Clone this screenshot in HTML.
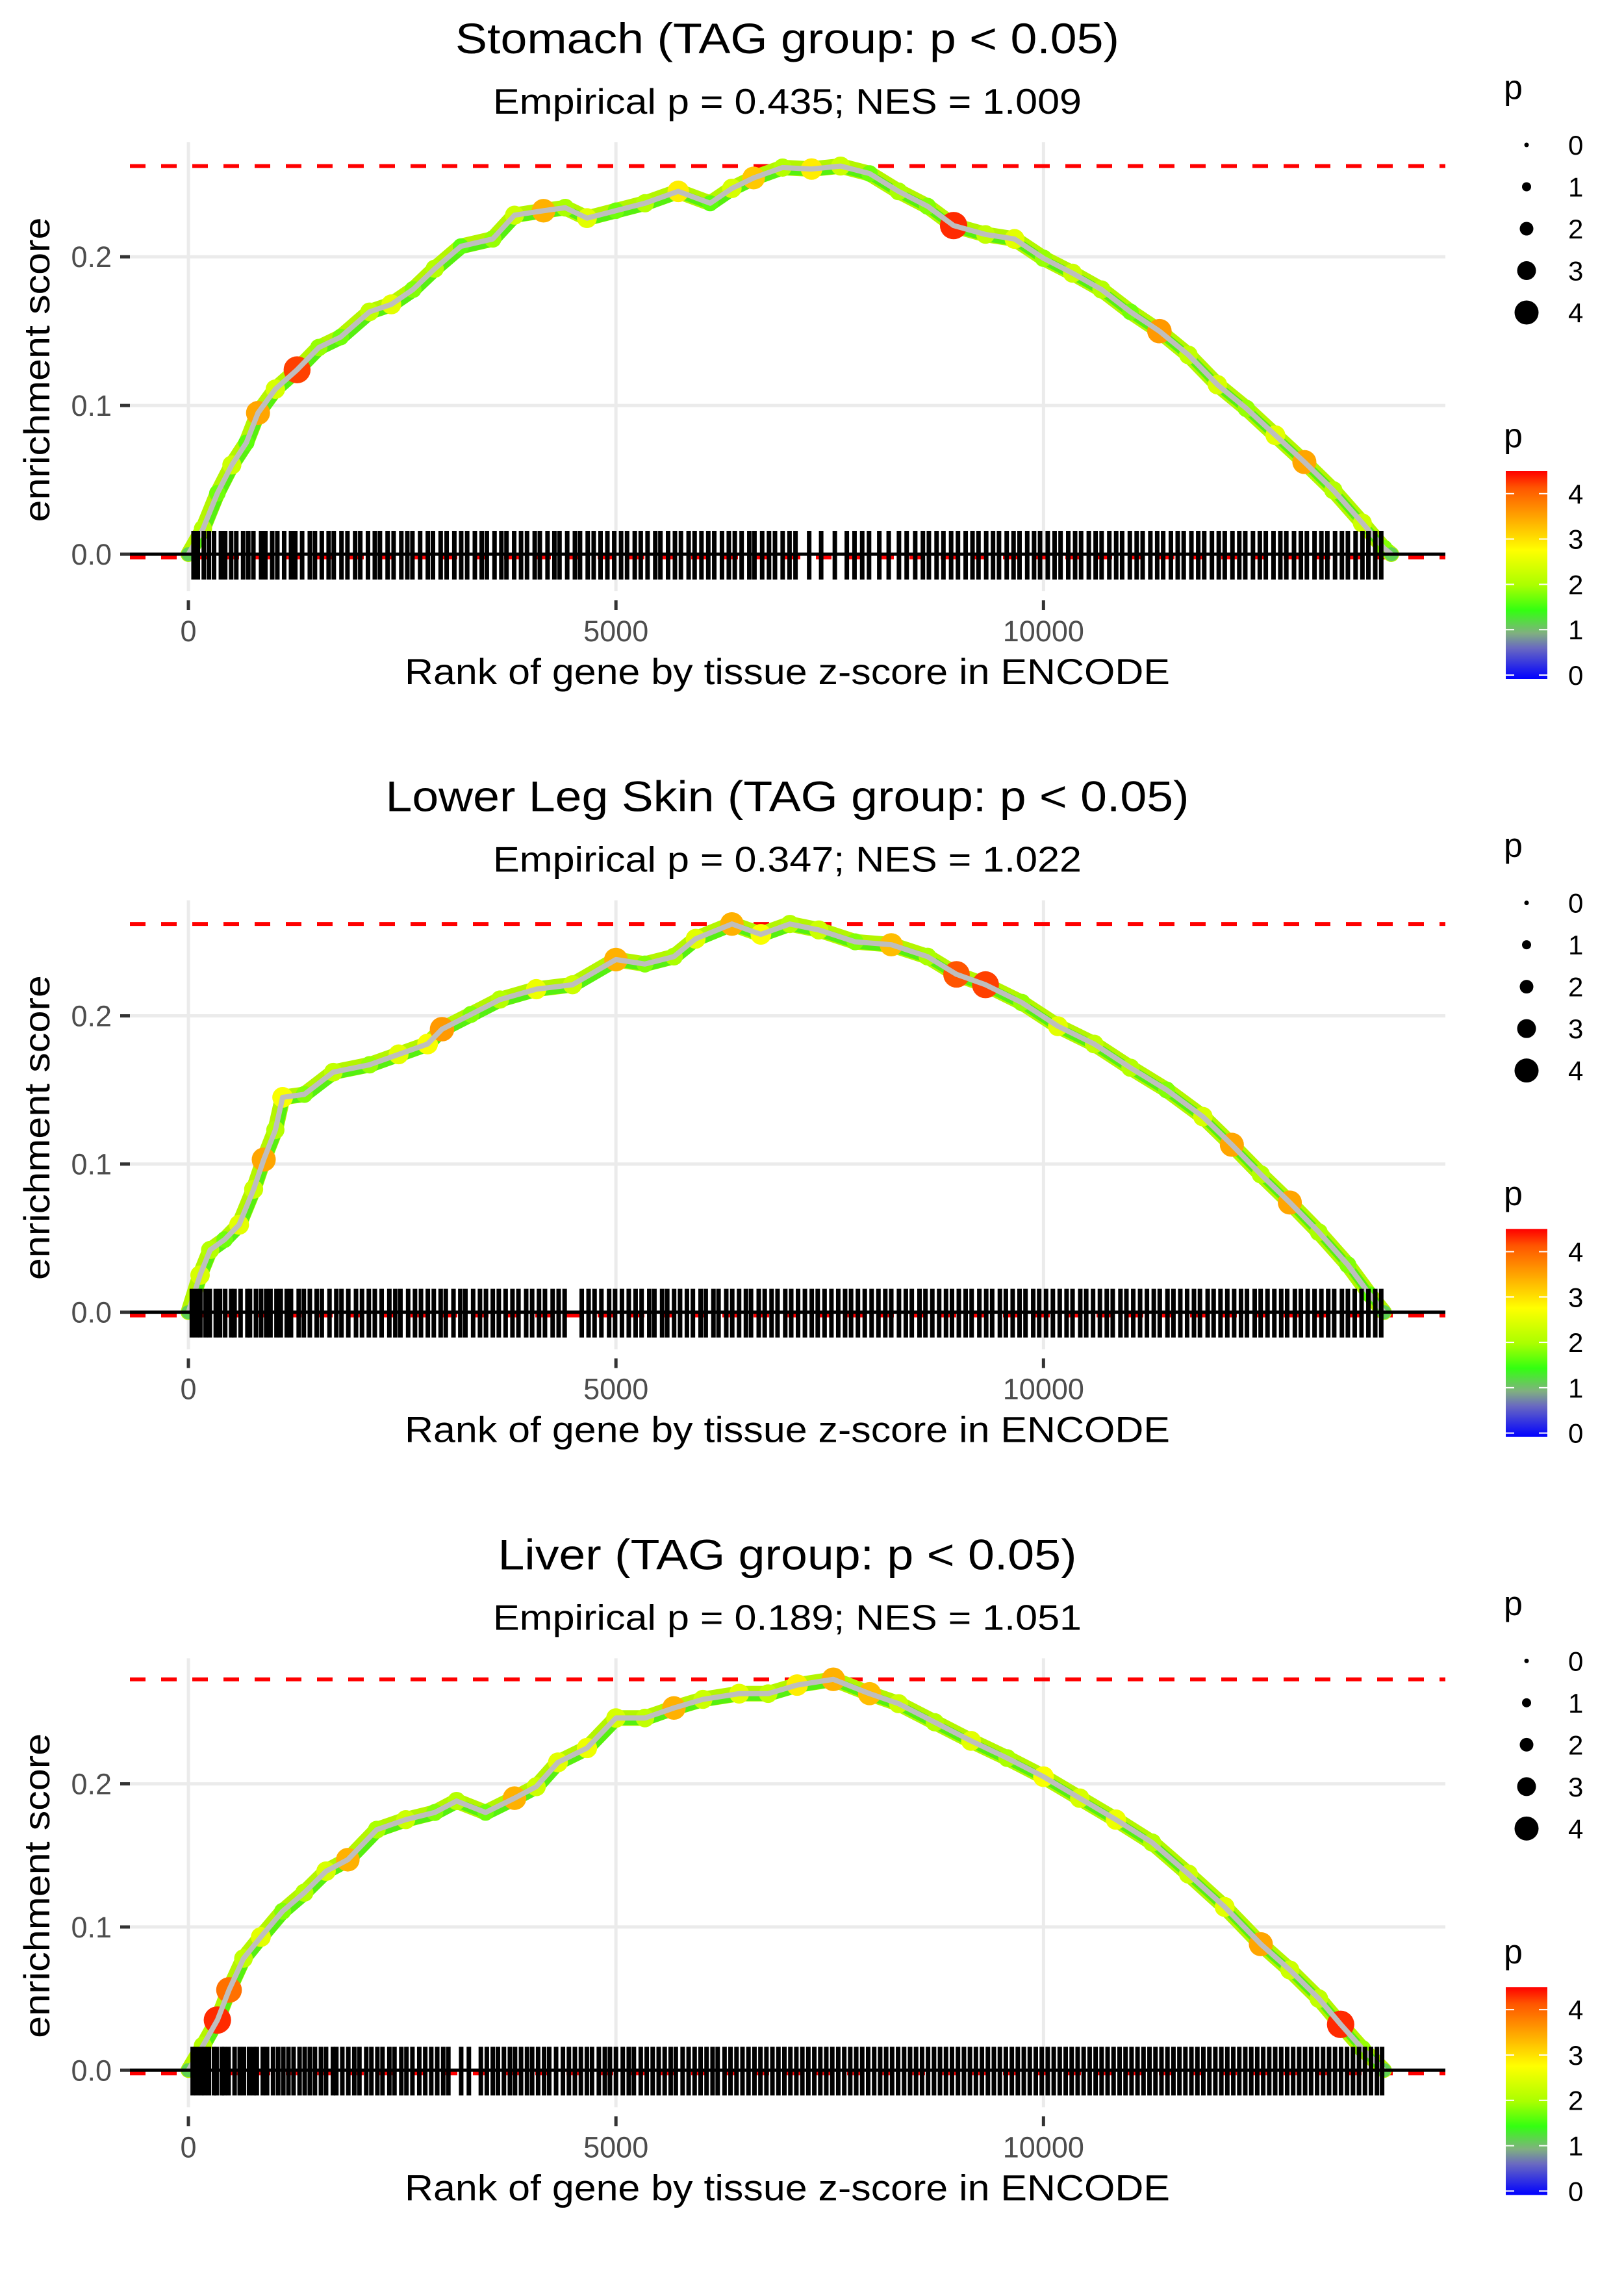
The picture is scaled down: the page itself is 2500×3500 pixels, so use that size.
<!DOCTYPE html>
<html><head><meta charset="utf-8">
<style>
html,body{margin:0;padding:0;background:#fff;}
svg{display:block;font-family:"Liberation Sans",sans-serif;}
</style></head>
<body>
<svg id="chart" xmlns="http://www.w3.org/2000/svg" width="2500" height="3500" viewBox="0 0 2500 3500">
<defs>
<linearGradient id="pgrad" x1="0" y1="1" x2="0" y2="0">
<stop offset="0" stop-color="#0000ff"/>
<stop offset="0.15" stop-color="#6a6ac0"/>
<stop offset="0.22" stop-color="#80b080"/>
<stop offset="0.33" stop-color="#33ff11"/>
<stop offset="0.45" stop-color="#aaff00"/>
<stop offset="0.62" stop-color="#ffff00"/>
<stop offset="0.80" stop-color="#ff9900"/>
<stop offset="0.92" stop-color="#ff5500"/>
<stop offset="1" stop-color="#ff0000"/>
</linearGradient>
</defs>
</svg>
<script>
// ---- Panel 1: Stomach ----
const p1Ranks = [0,170,339,508,678,814,1017,1271,1525,1780,2119,2373,2627,2881,3186,3559,3814,4153,4407,4661,5000,5339,5729,6102,6356,6610,6949,7288,7627,7966,8305,8644,8949,9322,9661,10000,10339,10678,11017,11356,11695,12034,12373,12712,13051,13390,13729,13983,14068];
const p1ES = [0,0.017,0.041,0.06,0.075,0.095,0.111,0.124,0.139,0.146,0.163,0.168,0.178,0.192,0.207,0.212,0.228,0.231,0.233,0.226,0.231,0.236,0.244,0.236,0.246,0.253,0.26,0.259,0.261,0.256,0.244,0.234,0.221,0.215,0.212,0.199,0.189,0.178,0.163,0.150,0.134,0.114,0.098,0.080,0.062,0.043,0.021,0.004,0];
const p1P = [1.2,2.2,1.8,2.4,1.7,3.6,2.5,4.3,2.0,1.8,2.3,2.6,1.9,2.2,1.7,2.0,2.4,3.5,2.1,2.6,1.8,2.2,3.0,1.7,2.5,3.3,2.2,3.0,2.4,1.8,2.1,1.9,4.4,2.3,2.6,2.0,2.4,2.2,1.8,3.7,2.3,2.5,2.0,2.6,3.6,2.2,2.4,1.9,1.2];
const p1Rug = [60,110,180,240,300,380,430,500,560,640,700,760,850,900,980,1040,1120,1200,1250,1330,1420,1480,1560,1640,1700,1790,1860,1950,2010,2100,2180,2240,2330,2400,2490,2560,2620,2710,2800,2860,2950,3020,3110,3190,3260,3350,3430,3490,3580,3660,3720,3810,3890,3960,4050,4110,4200,4280,4340,4430,4520,4580,4670,4740,4820,4900,4980,5060,5130,5220,5290,5370,5460,5520,5610,5690,5760,5850,5920,6000,6080,6150,6240,6320,6390,6470,6560,6620,6710,6790,6860,6950,7030,7100,7260,7400,7560,7700,7790,7880,7960,8080,8190,8310,8400,8500,8590,8660,8750,8830,8920,9000,9090,9170,9240,9330,9410,9480,9570,9650,9720,9810,9890,9960,10050,10130,10200,10290,10370,10440,10530,10610,10680,10770,10850,10920,11010,11090,11160,11250,11330,11400,11490,11570,11640,11730,11810,11880,11970,12050,12120,12210,12290,12360,12450,12530,12600,12690,12770,12840,12930,13010,13080,13170,13250,13320,13410,13490,13560,13650,13730,13800,13880,13950];
// ---- Panel 2: Lower Leg Skin ----
const p2Ranks = [0,136,254,424,593,763,881,1017,1102,1356,1695,2119,2458,2797,2966,3305,3644,4068,4492,5000,5339,5678,5932,6356,6695,7034,7373,7797,8220,8644,8983,9322,9746,10169,10593,11017,11441,11864,12203,12542,12881,13220,13559,13814,13983];
const p2ES = [0,0.025,0.042,0.049,0.059,0.083,0.103,0.123,0.145,0.147,0.162,0.167,0.174,0.181,0.191,0.201,0.211,0.218,0.221,0.238,0.235,0.240,0.252,0.262,0.255,0.262,0.258,0.25,0.248,0.240,0.228,0.221,0.209,0.193,0.181,0.165,0.150,0.132,0.113,0.093,0.074,0.054,0.032,0.012,0];
const p2P = [1.2,2.5,2.2,1.8,2.6,2.4,3.6,2.2,2.8,1.9,2.3,2.0,2.6,2.8,3.7,1.9,2.2,2.7,2.4,3.5,1.9,2.1,2.6,3.5,2.8,2.2,2.4,1.9,3.4,2.1,4.2,4.3,2.0,2.6,2.3,2.2,1.9,2.5,3.6,2.2,3.6,2.1,1.9,1.7,1.2];
const p2Rug = [40,90,140,200,250,320,370,430,500,540,610,690,720,790,850,910,960,1030,1080,1150,1200,1290,1350,1420,1500,1560,1650,1730,1790,1870,1960,2030,2110,2180,2260,2350,2420,2480,2570,2650,2720,2800,2870,2950,3010,3100,3180,3240,3330,3410,3480,3560,3630,3710,3790,3860,3950,4020,4100,4170,4260,4330,4400,4600,4680,4750,4830,4920,4990,5070,5150,5230,5300,5390,5450,5540,5600,5680,5750,5830,5900,5990,6050,6140,6200,6290,6360,6440,6520,6580,6670,6740,6820,6890,6980,7050,7130,7210,7290,7360,7440,7520,7600,7680,7750,7830,7910,7990,8070,8150,8220,8310,8390,8460,8550,8620,8700,8780,8860,8930,9010,9090,9160,9250,9330,9400,9490,9560,9640,9720,9790,9880,9950,10030,10110,10190,10270,10340,10430,10500,10580,10660,10740,10810,10900,10970,11050,11130,11210,11290,11360,11450,11520,11600,11680,11760,11830,11920,11990,12070,12150,12230,12310,12380,12470,12540,12620,12700,12780,12850,12940,13010,13090,13170,13250,13330,13400,13490,13560,13640,13720,13800,13880,13950];
// ---- Panel 3: Liver ----
const p3Ranks = [0,169,339,475,644,847,1102,1356,1610,1864,2203,2542,2881,3136,3475,3814,4068,4322,4661,5000,5339,5678,6017,6441,6780,7119,7542,7966,8305,8729,9153,9576,10000,10424,10847,11271,11695,12119,12542,12881,13220,13475,13729,13983];
const p3ES = [0,0.017,0.035,0.056,0.078,0.093,0.111,0.124,0.139,0.147,0.168,0.175,0.180,0.188,0.180,0.190,0.198,0.215,0.225,0.246,0.246,0.253,0.259,0.263,0.263,0.269,0.273,0.263,0.256,0.243,0.230,0.218,0.205,0.190,0.175,0.159,0.137,0.114,0.088,0.070,0.050,0.032,0.015,0];
const p3P = [1.2,2.2,4.4,4.0,2.3,2.6,1.9,2.2,2.5,3.5,2.1,2.4,1.9,2.2,1.8,3.5,2.4,2.6,2.7,2.5,2.3,3.5,2.4,2.6,2.3,3.0,3.5,3.4,2.4,2.2,2.6,2.1,2.8,2.5,2.7,2.2,2.4,2.6,3.6,2.4,2.3,4.4,2.0,1.2];
const p3Rug = [50,100,150,190,240,300,330,390,420,470,540,600,650,710,760,800,870,920,990,1050,1110,1170,1230,1300,1360,1420,1480,1550,1610,1690,1730,1800,1870,1940,2000,2080,2140,2210,2270,2350,2410,2490,2550,2620,2700,2770,2840,2910,2980,3040,3190,3280,3420,3490,3560,3620,3690,3760,3820,3890,3960,4020,4090,4160,4220,4300,4380,4450,4520,4590,4660,4720,4800,4870,4930,5000,5080,5150,5210,5290,5360,5430,5500,5570,5640,5700,5780,5850,5920,5990,6060,6130,6190,6270,6340,6410,6480,6550,6620,6690,6760,6830,6900,6970,7040,7110,7180,7250,7320,7390,7460,7530,7600,7670,7740,7810,7880,7950,8020,8090,8160,8230,8300,8370,8440,8510,8580,8650,8720,8790,8860,8930,9000,9070,9140,9210,9280,9350,9420,9490,9560,9630,9700,9770,9840,9910,9980,10050,10120,10190,10260,10330,10400,10470,10540,10610,10680,10750,10820,10890,10960,11030,11100,11170,11240,11310,11380,11450,11520,11590,11660,11730,11800,11870,11940,12010,12080,12150,12220,12290,12360,12430,12500,12570,12640,12710,12780,12850,12920,12990,13060,13130,13200,13270,13340,13410,13480,13550,13620,13690,13760,13830,13900,13960];

const titles = ["Stomach (TAG group: p < 0.05)","Lower Leg Skin (TAG group: p < 0.05)","Liver (TAG group: p < 0.05)"];
const subtitles = ["Empirical p = 0.435; NES = 1.009","Empirical p = 0.347; NES = 1.022","Empirical p = 0.189; NES = 1.051"];
const xTicks = [0,5000,10000];
const xTickLabels = ["0","5000","10000"];
const yTicks = [0,0.1,0.2];
const yTickLabels = ["0.0","0.1","0.2"];
const sizeLegendVals = [0,1,2,3,4];
const colorLegendVals = [0,1,2,3,4];

const NS = "http://www.w3.org/2000/svg";
const svg = document.getElementById("chart");
function mk(tag, attrs, parent){ const e=document.createElementNS(NS,tag); for(const k in attrs) e.setAttribute(k,attrs[k]); parent.appendChild(e); return e; }

const PLOT_L=200, PLOT_R=2225, PLOT_T=219, PLOT_B=910;
const X_MIN=-684, X_MAX=14700;
function xs(r){ return PLOT_L + (r - X_MIN)/(X_MAX - X_MIN)*(PLOT_R-PLOT_L); }
const yDomains = [[-0.0249,0.277],[-0.025,0.278],[-0.0259,0.2877]];
const titleW = [1022,1237,891];

function colorFor(p){
  const stops=[[0,[0,0,255]],[0.7,[106,106,192]],[1.0,[128,176,128]],[1.5,[51,255,17]],[2.1,[170,255,0]],[2.85,[255,255,0]],[3.7,[255,153,0]],[4.2,[255,85,0]],[4.6,[255,0,0]]];
  if(p<=0) return "rgb(0,0,255)";
  for(let i=1;i<stops.length;i++){ if(p<=stops[i][0]){ const a=stops[i-1],b=stops[i]; const t=(p-a[0])/(b[0]-a[0]); const c=a[1].map((v,j)=>Math.round(v+(b[1][j]-v)*t)); return "rgb("+c.join(",")+")"; } }
  return "rgb(255,0,0)";
}
function rFor(p){ return 7 + p*3.2; }

const panels = [[p1Ranks,p1ES,p1P,p1Rug],[p2Ranks,p2ES,p2P,p2Rug],[p3Ranks,p3ES,p3P,p3Rug]];

panels.forEach((pd,i)=>{
  const [ranks,es,pv,rug]=pd;
  const [lo,hi]=yDomains[i];
  const ys = v => PLOT_B - (v-lo)/(hi-lo)*(PLOT_B-PLOT_T);
  const g = mk("g",{transform:"translate(0,"+(i*1166.67)+")"},svg);
  
  

  const t = mk("text",{x:1212,y:82,"text-anchor":"middle","font-size":66,fill:"#000",textLength:titleW[i],lengthAdjust:"spacingAndGlyphs"},g);
  t.textContent=titles[i];
  
  
  const st = mk("text",{x:1212,y:175,"text-anchor":"middle","font-size":55,fill:"#000",textLength:906,lengthAdjust:"spacingAndGlyphs"},g);
  st.textContent=subtitles[i];
  
  

  // gridlines
  yTicks.forEach(v=>{
    const l=mk("line",{x1:PLOT_L,x2:PLOT_R,y1:ys(v),y2:ys(v),stroke:"#ebebeb","stroke-width":5},g);
    
    
  });
  xTicks.forEach(r=>{
    const l=mk("line",{x1:xs(r),x2:xs(r),y1:PLOT_T,y2:PLOT_B,stroke:"#ebebeb","stroke-width":5},g);
    
    
  });

  // red dashed lines (max and min ES)
  const maxES = Math.max(...es), minES = Math.min(...es);
  const dmax=mk("line",{x1:PLOT_L,x2:PLOT_R,y1:ys(maxES),y2:ys(maxES),stroke:"#ff0000","stroke-width":6,"stroke-dasharray":"24 24"},g);
  
  
  const dmin=mk("line",{x1:PLOT_L,x2:PLOT_R,y1:ys(minES)+5,y2:ys(minES)+5,stroke:"#ff0000","stroke-width":6,"stroke-dasharray":"24 24"},g);
  
  

  // band + points + line
  let d="";
  ranks.forEach((r,k)=>{ d += (k?"L":"M")+xs(r).toFixed(1)+","+ys(es[k]).toFixed(1); });
  const band=mk("path",{d:d,fill:"none",stroke:"#b4f500","stroke-width":24,"stroke-linejoin":"round","stroke-linecap":"round"},g);
  
  
  const band2=mk("path",{d:d,fill:"none",stroke:"#55f010","stroke-width":14,"stroke-linejoin":"round",transform:"translate(3,4)"},g);
  
  
  ranks.forEach((r,k)=>{
    const c=mk("circle",{cx:xs(r),cy:ys(es[k]),r:rFor(pv[k]),fill:colorFor(pv[k])},g);
    
    
  });
  const line=mk("path",{d:d,fill:"none",stroke:"#bebebe","stroke-width":8,"stroke-linejoin":"round"},g);
  
  

  // rug
  const rg=mk("g",{},g);
  
  
  rug.forEach(r=>{
    const l=mk("line",{x1:xs(r),x2:xs(r),y1:ys(0)-36,y2:ys(0)+39,stroke:"#000","stroke-width":7},rg);
    
    
  });
  const zl=mk("line",{x1:PLOT_L,x2:PLOT_R,y1:ys(0),y2:ys(0),stroke:"#000","stroke-width":5},g);
  
  

  // axes ticks/labels
  yTicks.forEach((v,k)=>{
    const tk=mk("line",{x1:185,x2:200,y1:ys(v),y2:ys(v),stroke:"#333","stroke-width":5},g);
    
    
    const tl=mk("text",{x:172,y:ys(v)+16,"text-anchor":"end","font-size":45,fill:"#4d4d4d"},g);
    tl.textContent=yTickLabels[k];
    
    
  });
  xTicks.forEach((r,k)=>{
    const tk=mk("line",{x1:xs(r),x2:xs(r),y1:PLOT_B+14,y2:PLOT_B+29,stroke:"#333","stroke-width":5},g);
    
    
    const tl=mk("text",{x:xs(r),y:987,"text-anchor":"middle","font-size":45,fill:"#4d4d4d"},g);
    tl.textContent=xTickLabels[k];
    
    
  });
  const xt=mk("text",{x:1212,y:1053,"text-anchor":"middle","font-size":56,fill:"#000",textLength:1178,lengthAdjust:"spacingAndGlyphs"},g);
  xt.textContent="Rank of gene by tissue z-score in ENCODE";
  
  
  const yt=mk("text",{x:0,y:0,transform:"translate(76,569) rotate(-90)","text-anchor":"middle","font-size":56,fill:"#000",textLength:469,lengthAdjust:"spacingAndGlyphs"},g);
  yt.textContent="enrichment score";
  
  

  // size legend
  const sl=mk("g",{},g);
  
  
  const sT=mk("text",{x:2315,y:152,"font-size":52,fill:"#000"},sl);
  sT.textContent="p";
  
  
  sizeLegendVals.forEach((v,k)=>{
    const cy=223+k*64.5;
    const c=mk("circle",{cx:2350,cy:cy,r:[3.5,7,10.5,14.5,18.5][k],fill:"#000"},sl);
    
    
    const tx=mk("text",{x:2414,y:cy+15,"font-size":42,fill:"#000"},sl);
    tx.textContent=String(v);
    
    
  });

  // color legend
  const cl=mk("g",{},g);
  
  
  const cT=mk("text",{x:2315,y:688,"font-size":52,fill:"#000"},cl);
  cT.textContent="p";
  
  
  const bar=mk("rect",{x:2318,y:725,width:64,height:320,fill:"url(#pgrad)"},cl);
  
  
  colorLegendVals.forEach((v,k)=>{
    const cy=1039 - v*69.8;
    const a=mk("line",{x1:2318,x2:2331,y1:cy,y2:cy,stroke:"#fff","stroke-width":2},cl);
    
    
    const b=mk("line",{x1:2369,x2:2382,y1:cy,y2:cy,stroke:"#fff","stroke-width":2},cl);
    
    
    const tx=mk("text",{x:2414,y:cy+15,"font-size":42,fill:"#000"},cl);
    tx.textContent=String(v);
    
    
  });
});
</script>
</body></html>
